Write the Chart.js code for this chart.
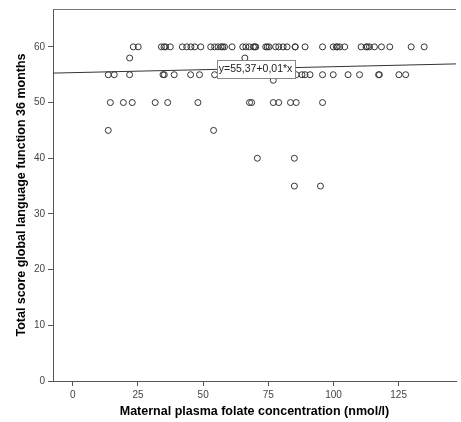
<!DOCTYPE html>
<html>
<head>
<meta charset="utf-8">
<script src="https://cdn.jsdelivr.net/npm/chart.js@4"></script>
<style>
  html, body { margin: 0; padding: 0; background: #fff; overflow: hidden; }
  canvas { display: block; }
</style>
</head>
<body>
<canvas id="chart" width="461" height="422"></canvas>
<script>
// valores (folato plasmático x pontuação aos 36 meses)
const folate = [
  23.2, 25.1, 34.0, 35.0, 35.6, 37.4, 42.0, 43.7, 45.3, 46.8, 49.1, 52.9, 54.4, 55.7, 56.9, 57.5, 58.2, 61.1,
  65.2, 66.4, 67.7, 69.3, 69.8, 70.2, 74.0, 74.6, 75.3, 77.8, 79.0, 80.7, 82.2, 85.3, 85.3, 89.1, 95.8,
  99.9, 101.1, 101.5, 102.4, 104.3, 110.6, 112.5, 113.0, 113.8, 115.7, 118.4, 121.6, 129.8, 134.8,
  21.8, 66.0,
  13.6, 15.9, 21.8, 34.6, 35.1, 38.9, 45.2, 48.6, 54.4, 85.7, 87.9, 89.1, 91.0, 95.8, 99.9, 105.6, 110.0,
  117.3, 117.6, 125.1, 127.7,
  76.9,
  14.4, 19.4, 22.8, 31.6, 36.4, 48.0, 67.8, 68.6, 76.9, 79.0, 83.5, 85.7, 95.8,
  13.6, 54.0,
  70.8, 85.0,
  85.0, 95.0
];
const score = [
  60, 60, 60, 60, 60, 60, 60, 60, 60, 60, 60, 60, 60, 60, 60, 60, 60, 60,
  60, 60, 60, 60, 60, 60, 60, 60, 60, 60, 60, 60, 60, 60, 60, 60, 60,
  60, 60, 60, 60, 60, 60, 60, 60, 60, 60, 60, 60, 60, 60,
  58, 58,
  55, 55, 55, 55, 55, 55, 55, 55, 55, 55, 55, 55, 55, 55, 55, 55, 55,
  55, 55, 55, 55,
  54,
  50, 50, 50, 50, 50, 50, 50, 50, 50, 50, 50, 50, 50,
  45, 45,
  40, 40,
  35, 35
];

// reta de regressão (y = 55,37 + 0,01*x)
const fitIntercept = 55.37;
const fitSlope = 0.0107;
const fitLabel = 'y=55,37+0,01*x';
const fitLabelAt = [70.1, 56.1];

const xRange = [-7.6, 147];
const yRange = [0, 66.8];
const xTitle = 'Maternal plasma folate concentration (nmol/l)';
const yTitle = 'Total score global language function 36 months';

const points = folate.map((f, i) => ({ x: f, y: score[i] }));
const fitLine = xRange.map(x => ({ x: x, y: fitIntercept + fitSlope * x }));

const axisColor = '#555';
const fontFamily = '"Liberation Sans", Arial, sans-serif';

// linha do topo e caixa da equação
const framePlugin = {
  id: 'frame',
  afterDatasetsDraw(chart) {
    const { ctx, chartArea, scales } = chart;
    ctx.save();
    ctx.strokeStyle = '#777';
    ctx.lineWidth = 1;
    ctx.beginPath();
    ctx.moveTo(chartArea.left, chartArea.top + 0.5);
    ctx.lineTo(chartArea.right, chartArea.top + 0.5);
    ctx.stroke();

    ctx.font = '10.5px ' + fontFamily;
    const w = Math.round(ctx.measureText(fitLabel).width + 4);
    const h = 18;
    const cx = scales.x.getPixelForValue(fitLabelAt[0]);
    const cy = scales.y.getPixelForValue(fitLabelAt[1]);
    const bx = Math.round(cx - w / 2) + 0.5;
    const by = Math.round(cy - h / 2) + 0.5;
    ctx.fillStyle = '#fff';
    ctx.fillRect(bx, by, w, h);
    ctx.strokeStyle = '#888';
    ctx.strokeRect(bx, by, w, h);
    ctx.fillStyle = '#222';
    ctx.textBaseline = 'middle';
    ctx.textAlign = 'center';
    ctx.fillText(fitLabel, cx, cy + 1);
    ctx.restore();
  }
};

new Chart(document.getElementById('chart'), {
  type: 'scatter',
  data: {
    datasets: [
      {
        type: 'line',
        data: fitLine,
        borderColor: '#333',
        borderWidth: 1,
        pointRadius: 0,
        fill: false,
        order: 2
      },
      {
        data: points,
        pointStyle: 'circle',
        pointRadius: 3,
        pointBorderWidth: 1,
        pointBorderColor: '#333',
        pointBackgroundColor: 'rgba(0,0,0,0)',
        order: 1
      }
    ]
  },
  options: {
    responsive: false,
    devicePixelRatio: 1,
    animation: false,
    layout: { padding: { top: 7, right: 0, left: 0, bottom: 0 } },
    plugins: {
      legend: { display: false },
      tooltip: { enabled: false }
    },
    scales: {
      x: {
        type: 'linear',
        min: xRange[0],
        max: xRange[1],
        afterFit(scale) { scale.height = 41; },
        border: { display: true, color: axisColor, width: 1 },
        grid: { drawOnChartArea: false, drawTicks: true, tickLength: 5, color: axisColor },
        ticks: {
          stepSize: 25,
          includeBounds: false,
          maxRotation: 0,
          padding: 3,
          color: '#444',
          font: { family: fontFamily, size: 10 }
        },
        title: {
          display: true,
          text: xTitle,
          color: '#000',
          padding: { top: 0, bottom: 2.5 },
          font: { family: fontFamily, size: 12.5, weight: 'bold' }
        }
      },
      y: {
        type: 'linear',
        min: yRange[0],
        max: yRange[1],
        afterFit(scale) { scale.width = 53; },
        border: { display: true, color: axisColor, width: 1 },
        grid: { drawOnChartArea: false, drawTicks: true, tickLength: 5, color: axisColor },
        ticks: {
          stepSize: 10,
          includeBounds: false,
          padding: 3,
          color: '#444',
          font: { family: fontFamily, size: 10 }
        },
        title: {
          display: true,
          text: yTitle,
          color: '#000',
          padding: { top: 14, bottom: 0 },
          font: { family: fontFamily, size: 12.5, weight: 'bold' }
        }
      }
    }
  },
  plugins: [framePlugin]
});
</script>
</body>
</html>
